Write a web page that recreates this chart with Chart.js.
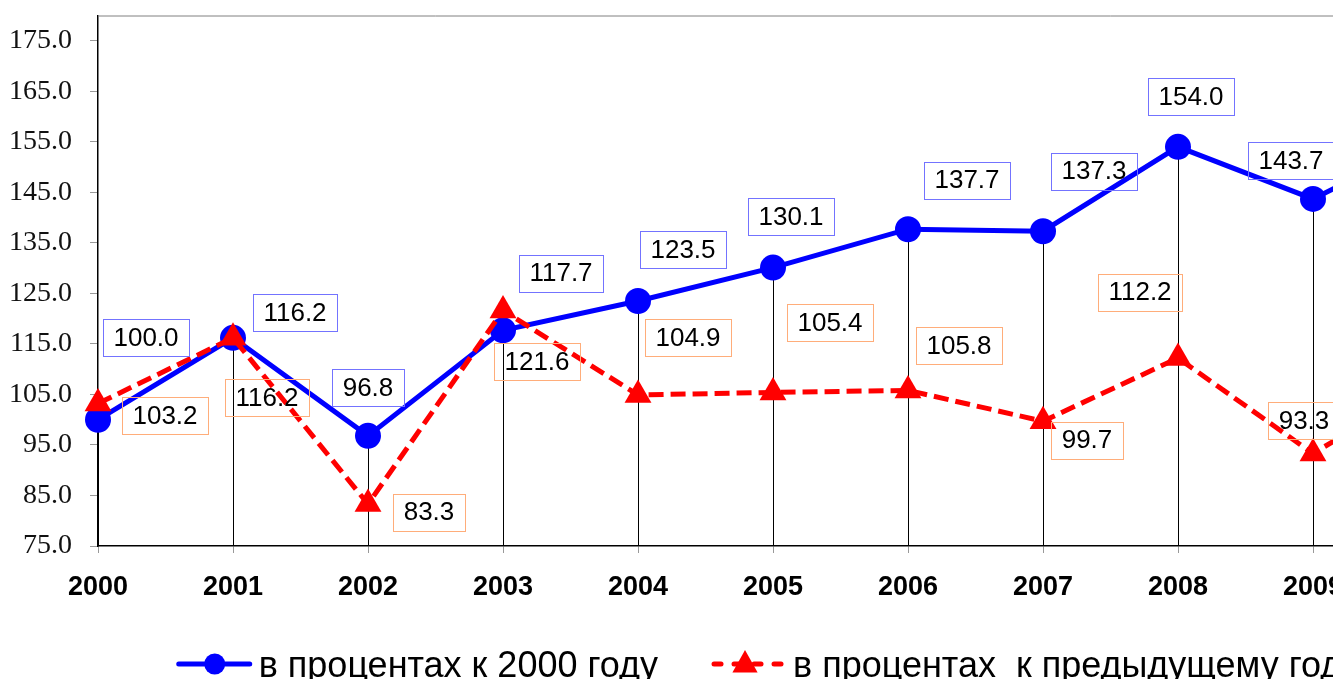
<!DOCTYPE html>
<html>
<head>
<meta charset="utf-8">
<script src="https://cdn.jsdelivr.net/npm/chart.js@4.4.1/dist/chart.umd.min.js"></script>
<style>
  html, body { margin: 0; padding: 0; overflow: hidden; background: #fff; }
  canvas { display: block; }
</style>
</head>
<body>
<canvas id="chart" width="1536" height="679"></canvas>
<script>
// data (2010 is cut off at the right edge, estimated from the slope)
const years = ["2000", "2001", "2002", "2003", "2004", "2005", "2006", "2007", "2008", "2009", "2010"];
const toYear2000 = [100.0, 116.2, 96.8, 117.7, 123.5, 130.1, 137.7, 137.3, 154.0, 143.7, 157.1];
const toPrevYear = [103.2, 116.2, 83.3, 121.6, 104.9, 105.4, 105.8, 99.7, 112.2, 93.3, 109.3];
const yTicks = [75, 85, 95, 105, 115, 125, 135, 145, 155, 165, 175];
const seriesNames = ["в процентах к 2000 году", "в процентах  к предыдущему году"];
const labelCount = 10;

// where each value box sits relative to its point (hand placed, like in the original)
const blueShift = [[48, -82], [62, -25], [0, -48], [58, -57], [45, -51], [18, -51], [59, -49], [51, -60], [13, -50], [-22, -38]];
const redShift = [[67, 12], [34, 60], [61, 8], [34, 51], [50, -57], [57, -70], [51, -45], [44, 19], [-38, -66], [-9, -33]];

const BLUE = "#0000ff";
const RED = "#ff0000";

const dropLines = {
  id: "dropLines",
  beforeDatasetsDraw(chart) {
    const { ctx, chartArea, scales } = chart;
    ctx.save();
    // top border of plot area
    ctx.strokeStyle = "#808080";
    ctx.lineWidth = 1;
    ctx.beginPath();
    ctx.moveTo(chartArea.left, chartArea.top + 0.5);
    ctx.lineTo(chartArea.right, chartArea.top + 0.5);
    ctx.moveTo(chartArea.right + 0.5, chartArea.top);
    ctx.lineTo(chartArea.right + 0.5, chartArea.bottom);
    ctx.stroke();

    ctx.strokeStyle = "#000";
    ctx.beginPath();
    years.forEach((y, i) => {
      const x = Math.round(scales.x.getPixelForValue(i)) + 0.5;
      const top = scales.y.getPixelForValue(Math.max(toYear2000[i], toPrevYear[i]));
      ctx.moveTo(x, top);
      ctx.lineTo(x, chartArea.bottom);
    });
    ctx.stroke();
    ctx.restore();
  },
};

const valueBoxes = {
  id: "valueBoxes",
  afterDatasetsDraw(chart) {
    const { ctx } = chart;
    ctx.save();
    ctx.font = "26px 'Liberation Sans', Arial, sans-serif";
    ctx.textAlign = "center";
    ctx.textBaseline = "middle";
    ctx.lineWidth = 1;

    const sets = [
      { idx: 1, values: toYear2000, shift: blueShift, border: "#7373ff" },
      { idx: 0, values: toPrevYear, shift: redShift, border: "#ffad7a" },
    ];
    sets.forEach((s) => {
      const meta = chart.getDatasetMeta(s.idx);
      for (let i = 0; i < labelCount; i++) {
        const pt = meta.data[i];
        const text = s.values[i].toFixed(1);
        const w = Math.round(ctx.measureText(text).width + 21);
        const h = 37;
        const cx = pt.x + s.shift[i][0];
        const cy = pt.y + s.shift[i][1];
        const bx = Math.round(cx - w / 2) + 0.5;
        const by = Math.round(cy - h / 2) + 0.5;
        ctx.strokeStyle = s.border;
        ctx.strokeRect(bx, by, w, h);
        ctx.fillStyle = "#000";
        ctx.fillText(text, cx, cy + 1);
      }
    });
    ctx.restore();
  },
};

const bottomLegend = {
  id: "bottomLegend",
  afterDraw(chart) {
    const { ctx, width } = chart;
    const cy = 664;
    const base = 677;
    const iconW = 75;
    ctx.save();
    ctx.font = "36px 'Liberation Sans', Arial, sans-serif";
    ctx.textBaseline = "alphabetic";
    ctx.textAlign = "left";
    const t0 = ctx.measureText(seriesNames[0]).width;
    const t1 = ctx.measureText(seriesNames[1]).width;
    const total = iconW + 7 + t0 + 53 + iconW + 7 + t1;
    let x = width / 2 - total / 2;

    // blue item
    ctx.strokeStyle = BLUE;
    ctx.lineWidth = 5;
    ctx.lineCap = "round";
    ctx.beginPath();
    ctx.moveTo(x + 2, cy);
    ctx.lineTo(x + iconW - 2, cy);
    ctx.stroke();
    ctx.fillStyle = BLUE;
    ctx.beginPath();
    ctx.arc(x + 38, cy, 10.5, 0, Math.PI * 2);
    ctx.fill();
    x += iconW + 7;
    ctx.fillStyle = "#000";
    ctx.fillText(seriesNames[0], x, base);
    x += t0 + 53;

    // red item
    ctx.strokeStyle = RED;
    ctx.setLineDash([7, 13]);
    ctx.beginPath();
    ctx.moveTo(x + 3, cy);
    ctx.lineTo(x + iconW, cy);
    ctx.stroke();
    ctx.setLineDash([]);
    ctx.fillStyle = RED;
    const tx = x + 34, r = 14;
    ctx.beginPath();
    ctx.moveTo(tx, cy - r);
    ctx.lineTo(tx + r * 0.9, cy + r * 0.6);
    ctx.lineTo(tx - r * 0.9, cy + r * 0.6);
    ctx.closePath();
    ctx.fill();
    x += iconW + 7;
    ctx.fillStyle = "#000";
    ctx.fillText(seriesNames[1], x, base);
    ctx.restore();
  },
};

new Chart(document.getElementById("chart"), {
  type: "line",
  data: {
    labels: years,
    datasets: [
      {
        label: seriesNames[1],
        data: toPrevYear,
        borderColor: RED,
        backgroundColor: RED,
        borderWidth: 5,
        borderDash: [15, 7],
        pointStyle: "triangle",
        pointRadius: 15.5,
        pointBorderWidth: 0,
        pointBackgroundColor: RED,
        tension: 0,
        clip: false,
      },
      {
        label: seriesNames[0],
        data: toYear2000,
        borderColor: BLUE,
        backgroundColor: BLUE,
        borderWidth: 5,
        pointStyle: "circle",
        pointRadius: 13,
        pointBorderWidth: 0,
        pointBackgroundColor: BLUE,
        tension: 0,
        clip: false,
      },
    ],
  },
  options: {
    responsive: false,
    devicePixelRatio: 1,
    animation: false,
    layout: { padding: { top: 15, right: 88, bottom: 60, left: 0 } },
    plugins: {
      legend: { display: false },
      tooltip: { enabled: false },
    },
    scales: {
      x: {
        type: "category",
        offset: false,
        grid: { display: true, drawOnChartArea: false, tickLength: 7, color: "#999" },
        border: { color: "#000", width: 1.5 },
        ticks: {
          color: "#000",
          font: { family: "'Liberation Sans', Arial, sans-serif", size: 27, weight: "bold" },
          padding: 18,
          maxRotation: 0,
          autoSkip: false,
        },
        afterFit: (s) => { s.height = 73; s.paddingLeft = 0; s.paddingRight = 0; },
      },
      y: {
        min: 75,
        max: 180,
        grid: { display: true, drawOnChartArea: false, tickLength: 8, color: "#999" },
        border: { color: "#000", width: 1.5 },
        afterBuildTicks: (s) => { s.ticks = yTicks.map((v) => ({ value: v })); },
        ticks: {
          color: "#111",
          font: { family: "'Liberation Serif', 'Times New Roman', serif", size: 28 },
          padding: 18,
          callback: (v) => Number(v).toFixed(1),
        },
        afterFit: (s) => { s.width = 98; s.paddingTop = 0; s.paddingBottom = 0; },
      },
    },
  },
  plugins: [dropLines, valueBoxes, bottomLegend],
});
</script>
</body>
</html>
